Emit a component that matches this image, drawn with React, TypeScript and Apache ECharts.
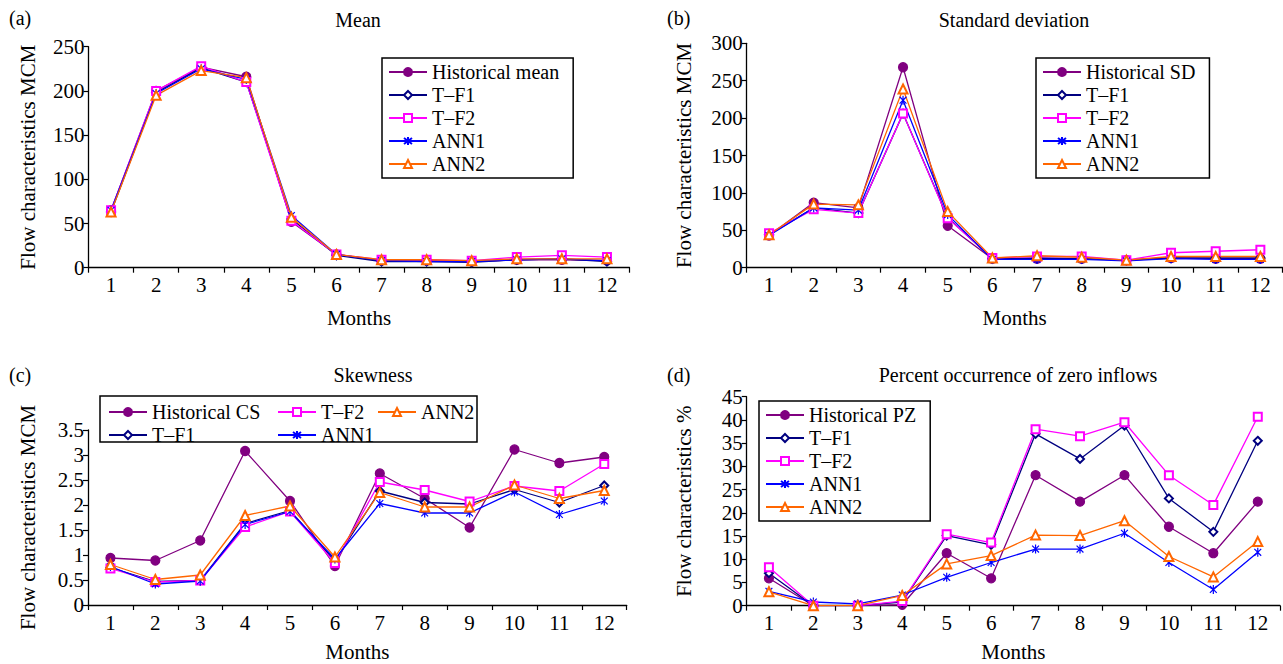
import React, { useEffect, useRef } from "react";
import * as echarts from "echarts";

const months = ["1", "2", "3", "4", "5", "6", "7", "8", "9", "10", "11", "12"];
const seriesNames = ["T–F1", "T–F2", "ANN1", "ANN2"];

// (a) Mean
const meanHist = [65, 200, 227, 216, 52, 15, 8, 8, 7, 9, 9, 8];
const meanTF1 = [63, 198, 226, 210, 55, 14, 7, 7, 6, 9, 10, 7];
const meanTF2 = [65, 200, 228, 210, 53, 15, 9, 9, 8, 12, 14, 12];
const meanANN1 = [65, 197, 225, 213, 59, 15, 8, 7, 7, 9, 10, 8];
const meanANN2 = [63, 195, 223, 215, 57, 15, 9, 9, 8, 10, 10, 10];

// (b) Standard deviation
const sdHist = [43, 87, 80, 268, 56, 12, 12, 12, 10, 13, 12, 12];
const sdTF1 = [44, 80, 73, 206, 67, 12, 13, 12, 10, 13, 13, 13];
const sdTF2 = [46, 78, 73, 206, 66, 13, 15, 15, 10, 20, 22, 24];
const sdANN1 = [43, 80, 77, 224, 71, 11, 11, 11, 9, 12, 11, 11];
const sdANN2 = [44, 85, 84, 239, 75, 13, 16, 14, 10, 15, 15, 15];

// (c) Skewness
const csHist = [0.94, 0.89, 1.29, 3.08, 2.08, 0.78, 2.63, 2.13, 1.55, 3.11, 2.84, 2.96];
const csTF1 = [0.75, 0.47, 0.49, 1.63, 1.89, 0.88, 2.28, 2.05, 2.02, 2.31, 2.05, 2.39];
const csTF2 = [0.73, 0.46, 0.49, 1.56, 1.87, 0.84, 2.46, 2.3, 2.07, 2.38, 2.28, 2.82];
const csANN1 = [0.77, 0.42, 0.48, 1.61, 1.87, 0.92, 2.03, 1.84, 1.84, 2.26, 1.81, 2.08];
const csANN2 = [0.81, 0.51, 0.6, 1.79, 1.98, 0.96, 2.25, 1.96, 1.96, 2.4, 2.13, 2.29];

// (d) Percent occurrence of zero inflows
const pzHist = [5.9, 0, 0, 0.2, 11.3, 5.9, 28.1, 22.4, 28.1, 17.0, 11.3, 22.4];
const pzTF1 = [7.0, 0, 0, 0.8, 15.1, 13.1, 37.0, 31.6, 38.8, 23.1, 15.9, 35.5];
const pzTF2 = [8.3, 0, 0, 1.0, 15.4, 13.6, 38.0, 36.5, 39.5, 28.1, 21.7, 40.7];
const pzANN1 = [3.1, 0.8, 0.4, 2.3, 6.1, 9.3, 12.2, 12.2, 15.6, 9.3, 3.5, 11.5];
const pzANN2 = [3.0, 0, 0, 2.2, 9.0, 10.8, 15.2, 15.1, 18.3, 10.6, 6.2, 13.8];

const FONT = "Liberation Serif";
const ASTER = "path://M5,0L5,10M1.2,1.2L8.8,8.8M1.2,8.8L8.8,1.2";

const styles: any = {
  hist: { color: "#800080", symbol: "circle", size: 9 },
  tf1: { color: "#000080", symbol: "emptyDiamond", size: 8 },
  tf2: { color: "#FF00FF", symbol: "emptyRect", size: 8 },
  ann1: { color: "#0000FF", symbol: ASTER, size: 9 },
  ann2: { color: "#FF6600", symbol: "emptyTriangle", size: 9 },
};

function mkSeries(name: string, data: number[], kind: string, idx: number) {
  const s = styles[kind];
  return {
    type: "line",
    name,
    data,
    xAxisIndex: idx,
    yAxisIndex: idx,
    symbol: s.symbol,
    symbolSize: s.size,
    symbolKeepAspect: true,
    showAllSymbol: true,
    lineStyle: { color: s.color, width: 1.3 },
    itemStyle: {
      color: kind === "ann1" ? "none" : s.color,
      borderColor: s.color,
      borderWidth: 1.2,
    },
    emphasis: { disabled: true },
  };
}

const grids = [
  { left: 88.5, top: 46.7, width: 541, height: 221 },
  { left: 746.7, top: 43.3, width: 536, height: 224.4 },
  { left: 88, top: 430, width: 538.7, height: 175 },
  { left: 746.7, top: 396.7, width: 533.3, height: 209 },
];

const yCfg = [
  { max: 250, interval: 50, name: "Flow characteristics MCM" },
  { max: 300, interval: 50, name: "Flow characteristics MCM" },
  { max: 3.5, interval: 0.5, name: "Flow characteristics MCM" },
  { max: 45, interval: 5, name: "Flow characteristics %" },
];

const txt = (size: number) => ({ color: "#000", fontFamily: FONT, fontSize: size });

export default function App() {
  const ref = useRef<HTMLDivElement>(null);
  useEffect(() => {
    if (!ref.current) return;
    const chart = echarts.init(ref.current, undefined, { renderer: "svg" });

    const xAxis = grids.map((_, i) => ({
      gridIndex: i,
      type: "category",
      data: months,
      boundaryGap: true,
      axisLine: { lineStyle: { color: "#000", width: 1.3 } },
      axisTick: { show: true, length: 5, interval: 0, lineStyle: { color: "#000", width: 1.2 } },
      axisLabel: { ...txt(21), margin: 7, interval: 0 },
      splitLine: { show: false },
      name: "Months",
      nameLocation: "middle",
      nameGap: i < 2 ? 40 : 36,
      nameTextStyle: txt(21),
    }));

    const yAxis = yCfg.map((c, i) => ({
      gridIndex: i,
      type: "value",
      min: 0,
      max: c.max,
      interval: c.interval,
      axisLine: { show: true, lineStyle: { color: "#000", width: 1.3 } },
      axisTick: { show: true, length: 5, lineStyle: { color: "#000", width: 1.2 } },
      axisLabel: { ...txt(21), margin: 4 },
      splitLine: { show: false },
      name: c.name,
      nameLocation: "middle",
      nameGap: i === 0 || i === 2 ? 50 : 52,
      nameTextStyle: txt(21),
    }));

    const series = [
      mkSeries("Historical mean", meanHist, "hist", 0),
      mkSeries(seriesNames[0], meanTF1, "tf1", 0),
      mkSeries(seriesNames[1], meanTF2, "tf2", 0),
      mkSeries(seriesNames[2], meanANN1, "ann1", 0),
      mkSeries(seriesNames[3], meanANN2, "ann2", 0),
      mkSeries("Historical SD", sdHist, "hist", 1),
      mkSeries(seriesNames[0], sdTF1, "tf1", 1),
      mkSeries(seriesNames[1], sdTF2, "tf2", 1),
      mkSeries(seriesNames[2], sdANN1, "ann1", 1),
      mkSeries(seriesNames[3], sdANN2, "ann2", 1),
      mkSeries("Historical CS", csHist, "hist", 2),
      mkSeries(seriesNames[0], csTF1, "tf1", 2),
      mkSeries(seriesNames[1], csTF2, "tf2", 2),
      mkSeries(seriesNames[2], csANN1, "ann1", 2),
      mkSeries(seriesNames[3], csANN2, "ann2", 2),
      mkSeries("Historical PZ", pzHist, "hist", 3),
      mkSeries(seriesNames[0], pzTF1, "tf1", 3),
      mkSeries(seriesNames[1], pzTF2, "tf2", 3),
      mkSeries(seriesNames[2], pzANN1, "ann1", 3),
      mkSeries(seriesNames[3], pzANN2, "ann2", 3),
    ];

    const legendBase = {
      orient: "vertical",
      itemWidth: 38,
      itemHeight: 10,
      itemGap: 3,
      selectedMode: false,
      textStyle: txt(20),
      backgroundColor: "#fff",
    };
    const boxed = { borderColor: "#000", borderWidth: 1.5, padding: [4, 14, 4, 6] };

    const legend = [
      { ...legendBase, ...boxed, left: 382, top: 58, data: ["Historical mean", ...seriesNames] },
      { ...legendBase, ...boxed, left: 1036, top: 58, data: ["Historical SD", ...seriesNames] },
      { ...legendBase, left: 103, top: 397, data: ["Historical CS", seriesNames[0]], backgroundColor: "transparent" },
      { ...legendBase, left: 272, top: 397, data: [seriesNames[1], seriesNames[2]], backgroundColor: "transparent" },
      { ...legendBase, left: 372, top: 397, data: [seriesNames[3]], backgroundColor: "transparent" },
      { ...legendBase, ...boxed, left: 759, top: 401, data: ["Historical PZ", ...seriesNames] },
    ];

    const label = (text: string, x: number, y: number, align = "left", size = 20) => ({
      type: "text",
      x,
      y,
      style: { text, fill: "#000", font: `${size}px '${FONT}'`, align, verticalAlign: "middle" },
    });

    const graphic = [
      { type: "rect", shape: { x: 100, y: 396, width: 377, height: 46 }, style: { fill: "#fff", stroke: "#000", lineWidth: 1.5 }, z: -1 },
      label("(a)", 9, 18),
      label("(b)", 667, 18),
      label("(c)", 9, 375),
      label("(d)", 667, 375),
      label("Mean", 358, 20, "center"),
      label("Standard deviation", 1014, 20, "center"),
      label("Skewness", 373, 375, "center"),
      label("Percent occurrence of zero inflows", 1018, 375, "center"),
    ];

    chart.setOption({
      animation: false,
      backgroundColor: "#fff",
      grid: grids.map((g) => ({ ...g, containLabel: false, outerBoundsMode: "none" })),
      xAxis,
      yAxis,
      legend,
      graphic,
      series,
    });
    return () => chart.dispose();
  }, []);
  return (
    <div
      ref={ref}
      style={{ position: "fixed", left: 0, top: 0, width: 1283, height: 664, background: "#fff" }}
    />
  );
}
